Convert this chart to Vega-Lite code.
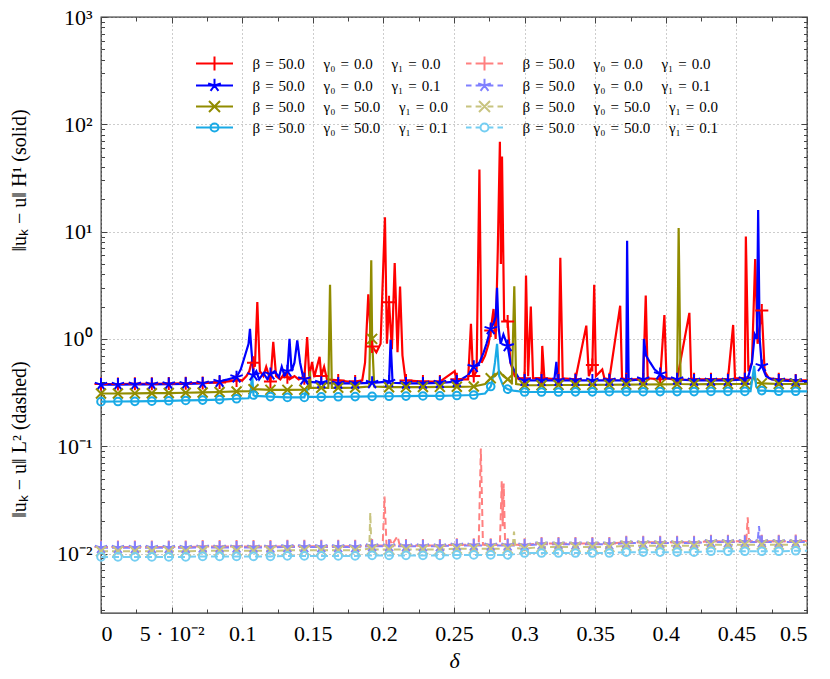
{
"$schema": "https://vega.github.io/schema/vega-lite/v6.json",
"width": 706, "height": 596,
"autosize": "none",
"padding": {"left": 101, "top": 17, "right": 23, "bottom": 66},
"background": "white",
"config": {
  "view": {"stroke": "#333333", "strokeWidth": 1.3},
  "axis": {"domain": false, "labelFont": "Liberation Serif", "labelFontSize": 22, "labelColor": "#000000", "tickColor": "#444444", "tickWidth": 1, "titleFont": "Liberation Serif", "titleFontWeight": "normal", "titleColor": "#000000", "titleFontSize": 20, "gridColor": "#9a9a9a", "gridDash": [1, 3], "gridWidth": 1}
},
"data": {"values": [
{"x":0,"R":0.380,"B":0.375,"O":0.310,"C":0.260,"r":0.0115,"b":0.0113,"o":0.0105,"c":0.0093},
{"x":0.012,"R":0.380,"B":0.375,"O":0.310,"C":0.261,"r":0.0115,"b":0.0113,"o":0.0105,"c":0.0093},
{"x":0.024,"R":0.381,"B":0.376,"O":0.311,"C":0.262,"r":0.0115,"b":0.0113,"o":0.0105,"c":0.0093},
{"x":0.036,"R":0.382,"B":0.377,"O":0.312,"C":0.263,"r":0.0115,"b":0.0113,"o":0.0105,"c":0.0093},
{"x":0.048,"R":0.384,"B":0.379,"O":0.313,"C":0.265,"r":0.0115,"b":0.0113,"o":0.0105,"c":0.0093},
{"x":0.06,"R":0.386,"B":0.381,"O":0.315,"C":0.267,"r":0.0115,"b":0.0113,"o":0.0105,"c":0.0093},
{"x":0.072,"R":0.389,"B":0.385,"O":0.317,"C":0.269,"r":0.0116,"b":0.0114,"o":0.0106,"c":0.0094},
{"x":0.084,"R":0.393,"B":0.40,"O":0.320,"C":0.272,"r":0.0116,"b":0.0114,"o":0.0106,"c":0.0094},
{"x":0.09,"B":0.42},
{"x":0.096,"R":0.41,"B":0.44,"O":0.324,"C":0.277,"r":0.0116,"b":0.0114,"o":0.0106,"c":0.0094},
{"x":0.097,"R":0.42},
{"x":0.099,"B":0.52},
{"x":0.1,"R":0.41},
{"x":0.102,"B":0.7},
{"x":0.103,"R":0.45},
{"x":0.1045,"B":0.9,"C":0.28},
{"x":0.105,"R":0.5,"O":0.326},
{"x":0.1055,"B":1.24},
{"x":0.106,"C":0.32,"O":0.33},
{"x":0.1065,"B":0.8},
{"x":0.107,"R":0.63,"C":0.47,"O":0.36},
{"x":0.108,"R":0.60,"B":0.46,"O":0.34,"C":0.30,"r":0.0116,"b":0.0114,"o":0.0106,"c":0.0094},
{"x":0.109,"R":0.55,"C":0.295},
{"x":0.11,"B":0.5},
{"x":0.1107,"R":2.2},
{"x":0.112,"B":0.42},
{"x":0.1125,"R":0.5},
{"x":0.115,"R":0.45,"B":0.48},
{"x":0.117,"R":0.55},
{"x":0.118,"B":0.42},
{"x":0.119,"R":0.45},
{"x":0.12,"R":0.40,"B":0.47,"O":0.335,"C":0.29,"r":0.0116,"b":0.0114,"o":0.0106,"c":0.0094},
{"x":0.122,"R":0.94},
{"x":0.123,"B":0.5},
{"x":0.124,"R":0.45},
{"x":0.126,"B":0.44},
{"x":0.127,"R":0.42},
{"x":0.128,"B":0.55},
{"x":0.13,"R":0.48,"B":0.45},
{"x":0.132,"R":0.44,"B":0.50,"O":0.335,"C":0.285,"r":0.0117,"b":0.0115,"o":0.0107,"c":0.0095},
{"x":0.1335,"R":0.42,"B":1.0},
{"x":0.135,"B":0.5},
{"x":0.137,"R":0.45,"B":0.6},
{"x":0.139,"B":0.97},
{"x":0.14,"R":0.42},
{"x":0.141,"B":0.6},
{"x":0.143,"R":0.44,"B":0.45},
{"x":0.144,"R":0.43,"B":0.42,"O":0.337,"C":0.285,"r":0.0117,"b":0.0115,"o":0.0107,"c":0.0095},
{"x":0.1455,"C":0.34},
{"x":0.146,"R":1.04,"B":0.4},
{"x":0.147,"O":0.34,"C":0.288},
{"x":0.1475,"R":0.45},
{"x":0.148,"O":0.5},
{"x":0.1485,"O":0.35},
{"x":0.1495,"R":0.61},
{"x":0.151,"R":0.44},
{"x":0.1548,"R":0.68},
{"x":0.156,"R":0.45,"B":0.39,"O":0.35,"C":0.288,"r":0.0117,"b":0.0115,"o":0.0107,"c":0.0095},
{"x":0.158,"R":0.55},
{"x":0.16,"R":0.42},
{"x":0.161,"O":0.35},
{"x":0.1622,"O":3.2},
{"x":0.1635,"O":0.35},
{"x":0.168,"R":0.41,"B":0.385,"O":0.35,"C":0.289,"r":0.0117,"b":0.0115,"o":0.0107,"c":0.0095},
{"x":0.175,"R":0.40},
{"x":0.18,"R":0.40,"B":0.385,"O":0.352,"C":0.29,"r":0.0117,"b":0.0115,"o":0.0107,"c":0.0095},
{"x":0.185,"R":0.41},
{"x":0.187,"R":0.6},
{"x":0.1893,"R":2.6},
{"x":0.19,"O":0.36,"o":0.0111},
{"x":0.1907,"o":0.024},
{"x":0.1914,"R":0.9,"O":5.4},
{"x":0.1915,"o":0.0111},
{"x":0.192,"R":0.85,"B":0.39,"O":1.0,"C":0.291,"r":0.0119,"b":0.0117,"o":0.0109,"c":0.0096},
{"x":0.1935,"O":0.36},
{"x":0.195,"R":0.75},
{"x":0.198,"R":0.9},
{"x":0.1995,"r":0.0119},
{"x":0.2008,"r":0.034},
{"x":0.2011,"R":13.6},
{"x":0.2022,"r":0.0119},
{"x":0.2025,"R":0.9},
{"x":0.2035,"B":0.4},
{"x":0.204,"R":2.2,"B":0.40,"O":0.355,"C":0.292,"r":0.0119,"b":0.0117,"o":0.0109,"c":0.0096},
{"x":0.2048,"r":0.0135},
{"x":0.2051,"B":0.98},
{"x":0.206,"R":0.8,"r":0.012},
{"x":0.2065,"B":0.39},
{"x":0.208,"R":5.1},
{"x":0.21,"R":0.75,"r":0.0145},
{"x":0.2115,"r":0.012},
{"x":0.2118,"R":3.07},
{"x":0.2135,"R":0.7},
{"x":0.2156,"R":0.42},
{"x":0.216,"R":0.41,"B":0.385,"O":0.355,"C":0.293,"r":0.0119,"b":0.0117,"o":0.0109,"c":0.0096},
{"x":0.228,"R":0.40,"B":0.385,"O":0.356,"C":0.294,"r":0.0119,"b":0.0117,"o":0.0109,"c":0.0096},
{"x":0.24,"R":0.40,"B":0.39,"O":0.357,"C":0.295,"r":0.0119,"b":0.0117,"o":0.0109,"c":0.0096},
{"x":0.2505,"R":0.5},
{"x":0.2515,"R":0.42},
{"x":0.252,"R":0.42,"B":0.40,"O":0.358,"C":0.297,"r":0.0121,"b":0.0119,"o":0.0111,"c":0.0097},
{"x":0.255,"B":0.42},
{"x":0.26,"R":0.42,"B":0.46},
{"x":0.262,"R":1.38},
{"x":0.2635,"R":0.45},
{"x":0.264,"R":0.45,"B":0.55,"O":0.36,"C":0.30,"r":0.0121,"b":0.0119,"o":0.0111,"c":0.0097},
{"x":0.266,"R":0.5},
{"x":0.2675,"r":0.0121},
{"x":0.268,"R":38,"B":0.6},
{"x":0.269,"r":0.095},
{"x":0.2695,"R":0.6},
{"x":0.2705,"r":0.0121},
{"x":0.271,"B":0.75},
{"x":0.272,"R":0.7,"O":0.38,"C":0.31},
{"x":0.273,"B":0.9},
{"x":0.2745,"R":0.9},
{"x":0.276,"R":1.2,"B":1.24,"O":0.43,"C":0.36,"r":0.0121,"b":0.0119,"o":0.0111,"c":0.0097},
{"x":0.277,"C":0.4},
{"x":0.278,"R":1.9,"B":1.4},
{"x":0.279,"O":0.45,"C":0.6},
{"x":0.2795,"R":1.0,"B":1.6},
{"x":0.2805,"B":3.0,"C":0.9},
{"x":0.281,"R":6.6},
{"x":0.2815,"B":1.3},
{"x":0.282,"O":0.5,"C":0.45},
{"x":0.2825,"R":68.6,"r":0.0121},
{"x":0.283,"B":0.9},
{"x":0.2832,"R":5},
{"x":0.2838,"r":0.047},
{"x":0.284,"R":50},
{"x":0.2845,"r":0.018},
{"x":0.285,"B":1.1,"O":0.45,"C":0.36},
{"x":0.2852,"r":0.045},
{"x":0.2855,"R":1.5},
{"x":0.2862,"r":0.0122},
{"x":0.288,"R":1.45,"B":0.86,"O":0.42,"C":0.34,"r":0.0121,"b":0.0119,"o":0.0111,"c":0.0097},
{"x":0.29,"R":0.6,"B":0.6},
{"x":0.291,"O":0.4},
{"x":0.2915,"o":0.0112},
{"x":0.292,"C":0.33},
{"x":0.2925,"o":0.016},
{"x":0.2927,"O":3.1},
{"x":0.293,"R":0.45,"B":0.5},
{"x":0.2935,"o":0.0112},
{"x":0.294,"O":0.38},
{"x":0.296,"R":0.42,"B":0.43},
{"x":0.299,"R":0.43},
{"x":0.3,"R":0.43,"B":0.41,"O":0.37,"C":0.32,"r":0.0121,"b":0.0119,"o":0.0111,"c":0.0101},
{"x":0.301,"R":3.9},
{"x":0.3025,"R":0.45},
{"x":0.3044,"R":2.0},
{"x":0.306,"R":0.43},
{"x":0.312,"R":0.43,"B":0.41,"O":0.37,"C":0.32,"r":0.0124,"b":0.0122,"o":0.0115,"c":0.0101},
{"x":0.3125,"R":0.86},
{"x":0.314,"R":0.43},
{"x":0.321,"B":0.41},
{"x":0.3225,"B":0.61},
{"x":0.3235,"B":0.41},
{"x":0.324,"R":0.42,"B":0.41,"O":0.372,"C":0.32,"r":0.0124,"b":0.0122,"o":0.0115,"c":0.0101},
{"x":0.3253,"R":5.7},
{"x":0.327,"R":0.43},
{"x":0.336,"R":0.42,"B":0.41,"O":0.372,"C":0.321,"r":0.0124,"b":0.0122,"o":0.0115,"c":0.0101},
{"x":0.3437,"R":1.33},
{"x":0.3455,"R":0.45},
{"x":0.348,"R":0.57,"B":0.41,"O":0.373,"C":0.321,"r":0.0124,"b":0.0122,"o":0.0115,"c":0.0101},
{"x":0.3493,"R":3.2},
{"x":0.3505,"R":0.45},
{"x":0.355,"R":0.52},
{"x":0.3565,"R":0.43},
{"x":0.36,"R":0.42,"B":0.41,"O":0.374,"C":0.322,"r":0.0124,"b":0.0122,"o":0.0115,"c":0.0101},
{"x":0.3677,"R":2.04},
{"x":0.369,"R":0.43},
{"x":0.3715,"B":0.41},
{"x":0.372,"R":0.42,"B":0.41,"O":0.375,"C":0.322,"r":0.0127,"b":0.0125,"o":0.0118,"c":0.0103},
{"x":0.3726,"B":8.2},
{"x":0.3737,"B":0.41},
{"x":0.384,"R":0.42,"B":0.42,"O":0.376,"C":0.322,"r":0.0127,"b":0.0125,"o":0.0118,"c":0.0103},
{"x":0.3845,"B":1.0},
{"x":0.3858,"R":2.53},
{"x":0.386,"B":0.7},
{"x":0.3872,"R":0.43},
{"x":0.389,"B":0.6},
{"x":0.392,"B":0.52},
{"x":0.396,"R":0.42,"B":0.47,"O":0.377,"C":0.323,"r":0.0127,"b":0.0125,"o":0.0118,"c":0.0103},
{"x":0.399,"R":1.67},
{"x":0.4,"B":0.43},
{"x":0.4005,"R":0.43},
{"x":0.408,"R":0.42,"B":0.42,"O":0.378,"C":0.323,"r":0.0127,"b":0.0125,"o":0.0118,"c":0.0103},
{"x":0.4091,"O":10.8},
{"x":0.4105,"O":0.38},
{"x":0.4167,"R":1.75},
{"x":0.418,"R":0.43},
{"x":0.42,"R":0.42,"B":0.41,"O":0.378,"C":0.323,"r":0.0127,"b":0.0125,"o":0.0118,"c":0.0103},
{"x":0.432,"R":0.42,"B":0.41,"O":0.379,"C":0.324,"r":0.0130,"b":0.0128,"o":0.0121,"c":0.0105},
{"x":0.444,"R":0.42,"B":0.41,"O":0.38,"C":0.324,"r":0.0130,"b":0.0128,"o":0.0121,"c":0.0105},
{"x":0.4477,"R":1.35},
{"x":0.449,"R":0.43},
{"x":0.456,"R":0.43,"B":0.42,"O":0.38,"C":0.324,"r":0.0130,"b":0.0128,"o":0.0121,"c":0.0105},
{"x":0.4567,"R":9.0},
{"x":0.457,"r":0.013},
{"x":0.458,"r":0.0217},
{"x":0.4585,"R":0.5,"B":0.45},
{"x":0.459,"r":0.013},
{"x":0.46,"O":0.38,"C":0.325},
{"x":0.461,"R":0.6,"B":0.6,"C":0.4},
{"x":0.4625,"O":0.45},
{"x":0.4626,"C":0.56},
{"x":0.463,"B":1.1},
{"x":0.4633,"R":5.56},
{"x":0.464,"O":0.39,"C":0.36},
{"x":0.4645,"B":1.0},
{"x":0.465,"R":0.9,"b":0.0128},
{"x":0.4654,"B":15.9},
{"x":0.466,"C":0.33,"b":0.018},
{"x":0.4665,"B":1.0},
{"x":0.467,"b":0.0128},
{"x":0.468,"R":1.84,"B":0.56,"O":0.385,"C":0.33,"r":0.0130,"b":0.0128,"o":0.0121,"c":0.0105},
{"x":0.47,"R":0.5},
{"x":0.471,"B":0.45},
{"x":0.473,"R":0.43},
{"x":0.475,"B":0.42},
{"x":0.48,"R":0.42,"B":0.41,"O":0.38,"C":0.325,"r":0.0130,"b":0.0128,"o":0.0121,"c":0.0105},
{"x":0.492,"R":0.41,"B":0.405,"O":0.38,"C":0.325,"r":0.0131,"b":0.0128,"o":0.0121,"c":0.0106},
{"x":0.5,"R":0.41,"B":0.405,"O":0.38,"C":0.325,"r":0.0131,"b":0.0128,"o":0.0121,"c":0.0106}
]},
"transform": [
  {"fold": ["R","B","O","C","r","b","o","c"], "as": ["s","v"]},
  {"filter": "isValid(datum.v)"}
],
"resolve": {"axis": {"x": "independent", "y": "independent"}},
"layer": [
  {
    "transform": [{"filter": "datum.s=='r'||datum.s=='b'||datum.s=='o'||datum.s=='c'"}],
    "mark": {"type": "line", "strokeWidth": 2, "strokeDash": [7, 4], "clip": true},
    "encoding": {
      "x": {"field": "x", "type": "quantitative", "scale": {"domain": [0, 0.5], "nice": false, "zero": false},
        "axis": {"orient": "bottom", "values": [0.025,0.075,0.125,0.175,0.225,0.275,0.325,0.375,0.425,0.475], "labels": false, "grid": false, "tickSize": -4, "title": null}},
      "y": {"field": "v", "type": "quantitative", "scale": {"type": "log", "domain": [0.00279, 1000], "nice": false},
        "axis": {"orient": "left", "values": [0.003,0.004,0.005,0.006,0.007,0.008,0.009,0.02,0.03,0.04,0.05,0.06,0.07,0.08,0.09,0.2,0.3,0.4,0.5,0.6,0.7,0.8,0.9,2,3,4,5,6,7,8,9,20,30,40,50,60,70,80,90,200,300,400,500,600,700,800,900], "labels": false, "grid": false, "tickSize": -3.5,
          "title": "‖uₖ − u‖ L² (dashed)", "titleX": -82, "titleY": 422, "titleAngle": 270, "titleAlign": "center", "titleBaseline": "middle"}},
      "color": {"field": "s", "type": "nominal", "scale": {"domain": ["R","B","O","C","r","b","o","c"], "range": ["#ff0000","#0000ff","#918c00","#1aaae6","#ff8080","#8080ff","#c8c47f","#75cef2"]}, "legend": null}
    }
  },
  {
    "transform": [{"filter": "datum.s=='R'||datum.s=='B'||datum.s=='O'||datum.s=='C'"}],
    "mark": {"type": "line", "strokeWidth": 2.2, "clip": true},
    "encoding": {
      "x": {"field": "x", "type": "quantitative", "scale": {"domain": [0, 0.5], "nice": false, "zero": false},
        "axis": {"orient": "bottom", "values": [0,0.05,0.1,0.15,0.2,0.25,0.3,0.35,0.4,0.45,0.5], "format": "~g", "labelExpr": "datum.value==0.05 ? '5 · 10⁻²' : datum.label", "grid": true, "tickSize": -6, "labelPadding": 16,
          "title": "δ", "titleFontStyle": "italic", "titleFontSize": 22, "titleY": 47, "titleBaseline": "middle"}},
      "y": {"field": "v", "type": "quantitative", "scale": {"type": "log", "domain": [0.00279, 1000], "nice": false},
        "axis": {"orient": "left", "values": [0.01,0.1,1,10,100,1000], "labelExpr": "datum.value==1000 ? '10³' : datum.value==100 ? '10²' : datum.value==10 ? '10¹' : datum.value==1 ? '10⁰' : datum.value==0.1 ? '10⁻¹' : '10⁻²'", "grid": true, "tickSize": -6, "labelPadding": 15,
          "title": "‖uₖ − u‖ H¹ (solid)", "titleX": -82, "titleY": 163, "titleAngle": 270, "titleAlign": "center", "titleBaseline": "middle"}},
      "color": {"field": "s", "type": "nominal", "scale": {"domain": ["R","B","O","C","r","b","o","c"], "range": ["#ff0000","#0000ff","#918c00","#1aaae6","#ff8080","#8080ff","#c8c47f","#75cef2"]}, "legend": null}
    }
  },
  {
    "transform": [{"filter": "abs(datum.x*250/3 - round(datum.x*250/3)) < 0.000001"}, {"filter": "datum.s=='R'||datum.s=='r'"}],
    "mark": {"type": "point", "shape": "M-1,0L1,0M0,-1L0,1", "size": 169, "filled": false, "strokeWidth": 2, "opacity": 1},
    "encoding": {
      "x": {"field": "x", "type": "quantitative", "axis": {"orient": "top", "values": [0,0.05,0.1,0.15,0.2,0.25,0.3,0.35,0.4,0.45,0.5], "labels": false, "grid": false, "tickSize": -6, "title": null}},
      "y": {"field": "v", "type": "quantitative", "axis": {"orient": "right", "values": [0.01,0.1,1,10,100,1000], "labels": false, "grid": false, "tickSize": -6, "title": null}},
      "color": {"field": "s", "type": "nominal", "legend": null}
    }
  },
  {
    "transform": [{"filter": "abs(datum.x*250/3 - round(datum.x*250/3)) < 0.000001"}, {"filter": "datum.s=='B'||datum.s=='b'"}],
    "mark": {"type": "point", "shape": "M0,0L0,-1M0,0L0.951,-0.309M0,0L-0.951,-0.309M0,0L-0.588,0.809M0,0L0.588,0.809", "size": 169, "filled": false, "strokeWidth": 2, "opacity": 1},
    "encoding": {
      "x": {"field": "x", "type": "quantitative", "axis": {"orient": "top", "values": [0.025,0.075,0.125,0.175,0.225,0.275,0.325,0.375,0.425,0.475], "labels": false, "grid": false, "tickSize": -4, "title": null}},
      "y": {"field": "v", "type": "quantitative", "axis": {"orient": "right", "values": [0.003,0.004,0.005,0.006,0.007,0.008,0.009,0.02,0.03,0.04,0.05,0.06,0.07,0.08,0.09,0.2,0.3,0.4,0.5,0.6,0.7,0.8,0.9,2,3,4,5,6,7,8,9,20,30,40,50,60,70,80,90,200,300,400,500,600,700,800,900], "labels": false, "grid": false, "tickSize": -3.5, "title": null}},
      "color": {"field": "s", "type": "nominal", "legend": null}
    }
  },
  {
    "transform": [{"filter": "abs(datum.x*250/3 - round(datum.x*250/3)) < 0.000001"}, {"filter": "datum.s=='O'||datum.s=='o'"}],
    "mark": {"type": "point", "shape": "M-1,-1L1,1M-1,1L1,-1", "size": 100, "filled": false, "strokeWidth": 2, "opacity": 1},
    "encoding": {
      "x": {"field": "x", "type": "quantitative", "axis": null},
      "y": {"field": "v", "type": "quantitative", "axis": null},
      "color": {"field": "s", "type": "nominal", "legend": null}
    }
  },
  {
    "transform": [{"filter": "abs(datum.x*250/3 - round(datum.x*250/3)) < 0.000001"}, {"filter": "datum.s=='C'||datum.s=='c'"}],
    "mark": {"type": "point", "shape": "circle", "size": 58, "filled": false, "strokeWidth": 2, "opacity": 1},
    "encoding": {
      "x": {"field": "x", "type": "quantitative", "axis": null},
      "y": {"field": "v", "type": "quantitative", "axis": null},
      "color": {"field": "s", "type": "nominal", "legend": null}
    }
  },
  {
    "transform": [{"filter": "datum.x == 0"}],
    "mark": {"type": "point", "filled": false, "opacity": 0},
    "encoding": {
      "shape": {"field": "s", "type": "nominal",
        "scale": {"domain": ["R","r","B","b","O","o","C","c"],
          "range": [
            "M-1.85,0L1.85,0M-0.7,0L0.7,0M0,-0.7L0,0.7",
            "M-1.85,0L-1.3,0M-0.89,0L-0.3,0M0.3,0L0.89,0M1.3,0L1.85,0M-0.7,0L0.7,0M0,-0.7L0,0.7",
            "M-1.85,0L1.85,0M0,0L0,-0.67M0,0L0.637,-0.207M0,0L-0.637,-0.207M0,0L-0.394,0.542M0,0L0.394,0.542",
            "M-1.85,0L-1.3,0M-0.89,0L-0.3,0M0.3,0L0.89,0M1.3,0L1.85,0M0,0L0,-0.67M0,0L0.637,-0.207M0,0L-0.637,-0.207M0,0L-0.394,0.542M0,0L0.394,0.542",
            "M-1.85,0L1.85,0M-0.55,-0.55L0.55,0.55M-0.55,0.55L0.55,-0.55",
            "M-1.85,0L-1.3,0M-0.89,0L-0.3,0M0.3,0L0.89,0M1.3,0L1.85,0M-0.55,-0.55L0.55,0.55M-0.55,0.55L0.55,-0.55",
            "M-1.85,0L1.85,0M0.4,0A0.4,0.4 0 1,1 -0.4,0A0.4,0.4 0 1,1 0.4,0",
            "M-1.85,0L-1.3,0M-0.89,0L-0.4,0M0.4,0L0.89,0M1.3,0L1.85,0M0.4,0A0.4,0.4 0 1,1 -0.4,0A0.4,0.4 0 1,1 0.4,0"
          ]},
        "legend": {
          "orient": "none", "legendX": 95, "legendY": 35.5, "columns": 2, "direction": "horizontal", "title": null,
          "symbolSize": 400, "symbolOffset": 7.5, "symbolStrokeWidth": 2, "symbolOpacity": 1, "symbolFillColor": "transparent",
          "symbolStrokeColor": {"expr": "datum.value=='R' ? '#ff0000' : datum.value=='r' ? '#ff8080' : datum.value=='B' ? '#0000ff' : datum.value=='b' ? '#8080ff' : datum.value=='O' ? '#918c00' : datum.value=='o' ? '#c8c47f' : datum.value=='C' ? '#1aaae6' : '#75cef2'"},
          "labelFont": "Liberation Serif", "labelFontSize": 15, "labelColor": "#000000", "labelOffset": 27, "labelLimit": 400,
          "rowPadding": 0, "columnPadding": 14,
          "labelExpr": "(datum.value=='R'||datum.value=='r') ? 'β\u2004=\u200450.0\u2003\u2005γ₀\u2004=\u20040.0\u2003\u2005γ₁\u2004=\u20040.0' : (datum.value=='B'||datum.value=='b') ? 'β\u2004=\u200450.0\u2003\u2005γ₀\u2004=\u20040.0\u2003\u2005γ₁\u2004=\u20040.1' : (datum.value=='O'||datum.value=='o') ? 'β\u2004=\u200450.0\u2003\u2005γ₀\u2004=\u200450.0\u2003\u2005γ₁\u2004=\u20040.0' : 'β\u2004=\u200450.0\u2003\u2005γ₀\u2004=\u200450.0\u2003\u2005γ₁\u2004=\u20040.1'",
          "encode": {"symbols": {
            "fill": {"value": "transparent"},
            "opacity": {"value": 1}
          }}
        }
      }
    }
  }
]
}
